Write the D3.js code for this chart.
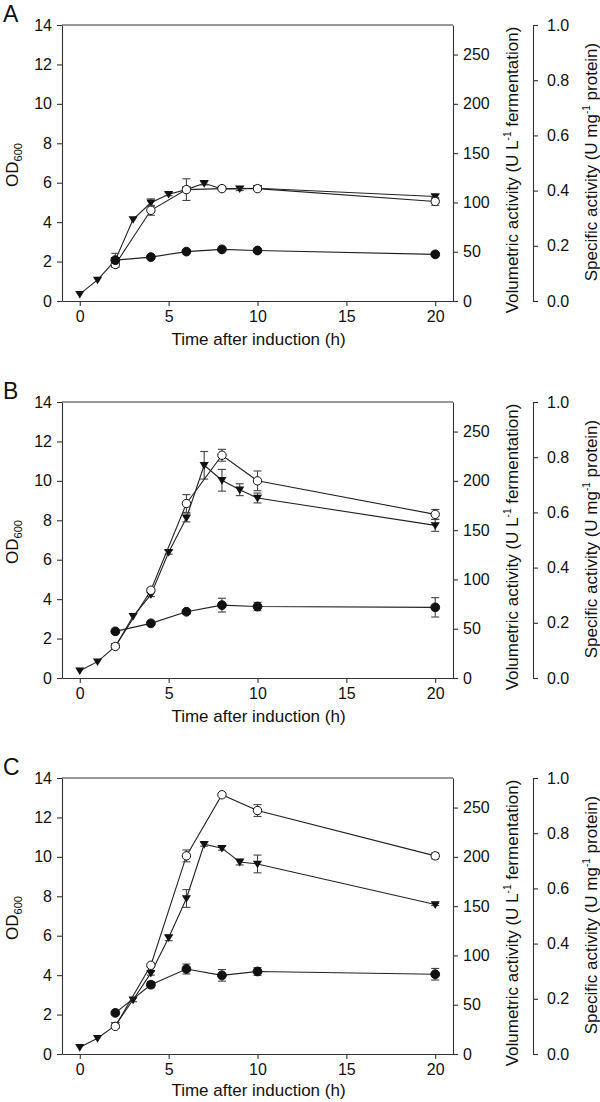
<!DOCTYPE html>
<html>
<head>
<meta charset="utf-8">
<script src="https://cdn.jsdelivr.net/npm/d3@7"></script>
<style>
  body { margin: 0; background: #fff; }
  svg text { font-family: "Liberation Sans", Arial, sans-serif; fill: #111; }
  .axis path, .axis line { stroke: #333; stroke-width: 1.1; }
  .axis text { font-size: 16px; }
</style>
<title>OD600 and activity after induction</title>
</head>
<body>
<div class="chart-wrap"></div>
<script>
// sampling times (h)
var timeOD  = [0, 1, 2, 3, 4, 5, 6, 7, 8, 9, 10, 20];
var timeAct = [2, 4, 6, 8, 10, 20];

// tick labels
var xTicks    = [0, 5, 10, 15, 20];
var odTicks   = [0, 2, 4, 6, 8, 10, 12, 14];
var volTicks  = [0, 50, 100, 150, 200, 250];
var specTicks = [0, 0.2, 0.4, 0.6, 0.8, 1.0];

var panelNames = ["A", "B", "C"];

// OD600 (filled triangles)
var odA = [0.35, 1.07, 2.07, 4.14, 4.98, 5.42, 5.65, 5.97, 5.68, 5.70, 5.72, 5.30];
var odB = [0.37, 0.83, 1.60, 3.13, 4.23, 6.38, 8.12, 10.79, 10.03, 9.55, 9.13, 7.74];
var odC = [0.34, 0.80, 1.45, 2.75, 4.10, 5.90, 7.89, 10.64, 10.44, 9.74, 9.64, 7.58];
var odErrA = [0, 0, 0.35, 0, 0.2, 0.08, 0, 0.08, 0, 0.1, 0.05, 0.1];
var odErrB = [0, 0, 0, 0, 0.1, 0.1, 0.2, 0.7, 0.55, 0.3, 0.25, 0.3];
var odErrC = [0, 0, 0, 0.1, 0.1, 0.15, 0.45, 0.1, 0.1, 0.15, 0.45, 0.05];

// volumetric activity, U/L (open circles)
var volA = [37, 92, 113, 114, 114, 101];
var volB = [32, 89, 177, 226, 200, 166];
var volC = [28, 90, 201, 263, 247, 201];
var volErrA = [3, 5, 11, 2, 2, 4];
var volErrB = [1, 2, 9, 6, 10, 5];
var volErrC = [2, 2, 6, 1, 6, 3];

// specific activity, U/mg (filled circles)
var specA = [0.148, 0.159, 0.179, 0.187, 0.183, 0.169];
var specB = [0.169, 0.198, 0.240, 0.264, 0.259, 0.256];
var specC = [0.149, 0.251, 0.308, 0.285, 0.299, 0.289];
var specErrA = [0.004, 0.004, 0.004, 0.004, 0.004, 0.006];
var specErrB = [0.004, 0.005, 0.008, 0.025, 0.015, 0.035];
var specErrC = [0.005, 0.011, 0.018, 0.021, 0.014, 0.021];

var panels = [
  { od: odA, odErr: odErrA, vol: volA, volErr: volErrA, spec: specA, specErr: specErrA },
  { od: odB, odErr: odErrB, vol: volB, volErr: volErrB, spec: specB, specErr: specErrB },
  { od: odC, odErr: odErrC, vol: volC, volErr: volErrC, spec: specC, specErr: specErrC }
];

var w = 600, h = 1102;
var left = 62, right = 453, specX = 533;
var tops = [25, 402, 778], ph = 276;

var svg = d3.select(".chart-wrap").append("svg")
  .attr("width", w)
  .attr("height", h);

panels.forEach(function (p, i) {
  var top = tops[i], bottom = top + ph;
  var g = svg.append("g");

  var x = d3.scaleLinear().domain([-1, 21]).range([left, right]);
  var yOD = d3.scaleLinear().domain([0, 14]).range([bottom, top]);
  var yVol = d3.scaleLinear().domain([0, 280]).range([bottom, top]);
  var ySpec = d3.scaleLinear().domain([0, 1]).range([bottom, top]);

  // top border of the box
  g.append("line")
    .attr("x1", left).attr("x2", right)
    .attr("y1", top).attr("y2", top)
    .attr("stroke", "#333").attr("stroke-width", 1.1);

  g.append("g").attr("class", "axis")
    .attr("transform", "translate(0," + bottom + ")")
    .call(d3.axisBottom(x).tickValues(xTicks).tickSize(5).tickSizeOuter(0).tickPadding(5));

  g.append("g").attr("class", "axis")
    .attr("transform", "translate(" + left + ",0)")
    .call(d3.axisLeft(yOD).tickValues(odTicks).tickSize(5).tickSizeOuter(0).tickPadding(5));

  g.append("g").attr("class", "axis")
    .attr("transform", "translate(" + right + ",0)")
    .call(d3.axisRight(yVol).tickValues(volTicks).tickSize(5).tickSizeOuter(0).tickPadding(5));

  g.append("g").attr("class", "axis")
    .attr("transform", "translate(" + specX + ",0)")
    .call(d3.axisRight(ySpec).tickValues(specTicks).tickSize(5).tickSizeOuter(0).tickPadding(9)
      .tickFormat(d3.format(".1f")));

  // panel letter
  g.append("text")
    .attr("x", 3).attr("y", top - 3)
    .style("font-size", "23px")
    .text(panelNames[i]);

  // axis titles
  var odLabel = g.append("text")
    .attr("transform", "translate(18," + (top + 140) + ") rotate(-90)")
    .attr("text-anchor", "middle")
    .style("font-size", "17px");
  odLabel.append("tspan").text("OD");
  odLabel.append("tspan").attr("dy", 4).style("font-size", "11px").text("600");

  g.append("text")
    .attr("x", (left + right) / 2 + 1).attr("y", Math.min(bottom + 44, h - 6))
    .attr("text-anchor", "middle")
    .style("font-size", "17px")
    .text("Time after induction (h)");

  var volLabel = g.append("text")
    .attr("transform", "translate(518," + (top + 145) + ") rotate(-90)")
    .attr("text-anchor", "middle")
    .style("font-size", "17px");
  volLabel.append("tspan").text("Volumetric activity (U L");
  volLabel.append("tspan").attr("dy", -7).style("font-size", "10px").text("-1");
  volLabel.append("tspan").attr("dy", 7).text(" fermentation)");

  var specLabel = g.append("text")
    .attr("transform", "translate(597," + (top + 137) + ") rotate(-90)")
    .attr("text-anchor", "middle")
    .style("font-size", "17px");
  specLabel.append("tspan").text("Specific activity (U mg");
  specLabel.append("tspan").attr("dy", -7).style("font-size", "10px").text("-1");
  specLabel.append("tspan").attr("dy", 7).text("  protein)");

  var series = [
    { t: timeOD, v: p.od, e: p.odErr, y: yOD, shape: "tri" },
    { t: timeAct, v: p.vol, e: p.volErr, y: yVol, shape: "open" },
    { t: timeAct, v: p.spec, e: p.specErr, y: ySpec, shape: "dot" }
  ];

  series.forEach(function (s) {
    var pts = s.t.map(function (t, k) { return { t: t, v: s.v[k], e: s.e[k] }; });

    g.append("path")
      .datum(pts)
      .attr("fill", "none")
      .attr("stroke", "#222")
      .attr("stroke-width", 1.1)
      .attr("d", d3.line().x(function (d) { return x(d.t); }).y(function (d) { return s.y(d.v); }));

    var eb = g.append("g").attr("stroke", "#444").attr("stroke-width", 1.1);
    pts.filter(function (d) { return d.e > 0; }).forEach(function (d) {
      var cx = x(d.t), y1 = s.y(d.v - d.e), y2 = s.y(d.v + d.e);
      eb.append("line").attr("x1", cx).attr("x2", cx).attr("y1", y1).attr("y2", y2);
      eb.append("line").attr("x1", cx - 4).attr("x2", cx + 4).attr("y1", y1).attr("y2", y1);
      eb.append("line").attr("x1", cx - 4).attr("x2", cx + 4).attr("y1", y2).attr("y2", y2);
    });

    if (s.shape === "tri") {
      g.selectAll(null).data(pts).enter().append("path")
        .attr("transform", function (d) { return "translate(" + x(d.t) + "," + s.y(d.v) + ")"; })
        .attr("d", "M-4.6,-3.2L4.6,-3.2L0,4.4Z")
        .attr("fill", "#111");
    } else {
      g.selectAll(null).data(pts).enter().append("circle")
        .attr("cx", function (d) { return x(d.t); })
        .attr("cy", function (d) { return s.y(d.v); })
        .attr("r", s.shape === "open" ? 4.2 : 4.4)
        .attr("fill", s.shape === "open" ? "#fff" : "#111")
        .attr("stroke", "#111")
        .attr("stroke-width", 1);
    }
  });
});
</script>
</body>
</html>
